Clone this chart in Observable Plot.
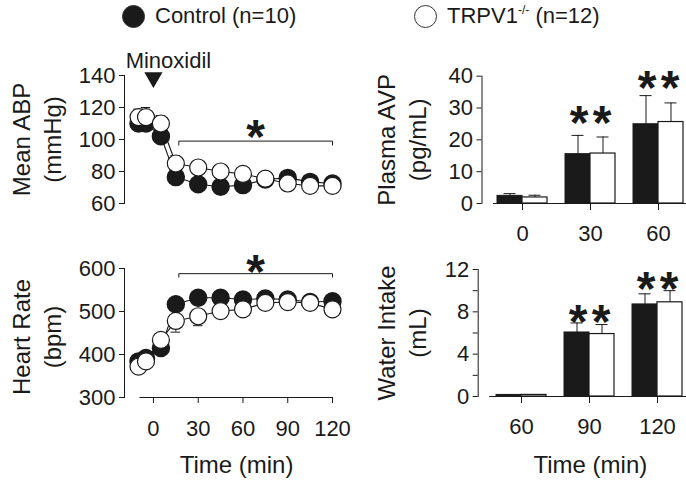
<!DOCTYPE html>
<html><head><meta charset="utf-8">
<script src="https://cdn.jsdelivr.net/npm/d3@7"></script>
<script src="https://cdn.jsdelivr.net/npm/@observablehq/plot@0.6"></script>
<style>
body{margin:0;background:#fff;}
#wrap{position:relative;width:686px;height:484px;overflow:hidden;font-family:"Liberation Sans",Arial,sans-serif;color:#1a1a1a;background:#fff;}
.panel{position:absolute;}
.lg{position:absolute;top:4px;height:24px;display:flex;align-items:center;font-size:22px;white-space:nowrap;}
.dot{display:inline-block;width:23px;height:23px;border-radius:50%;border:1px solid #333;box-sizing:border-box;margin-right:10px;}
.lg sup{font-size:0.55em;vertical-align:0.75em;line-height:0;}
</style></head>
<body>
<div id="wrap">
  <div class="lg" style="left:122px"><span class="dot" style="background:#1a1a1a"></span><span>Control (n=10)</span></div>
  <div class="lg" style="left:414px"><span class="dot" style="background:#fff"></span><span>TRPV1<sup>-/-</sup> (n=12)</span></div>
  <div class="panel" id="p1" style="left:0;top:50px"></div>
  <div class="panel" id="p2" style="left:0;top:240px"></div>
  <div class="panel" id="p3" style="left:350px;top:50px"></div>
  <div class="panel" id="p4" style="left:350px;top:240px"></div>
</div>
<script>
// ---------- data ----------
const times = [-10, -5, 5, 15, 30, 45, 60, 75, 90, 105, 120];
const abpControl    = [110, 110, 102, 76.5, 72, 70.5, 71.5, 75, 76, 73.5, 72.5];
const abpControlSem = [3, 3, 3, 3, 2, 2, 2, 2, 2, 2, 2];
const abpTrpv1      = [114, 114, 110, 85, 82.5, 80, 78.5, 75.5, 72.5, 71, 71];
const abpTrpv1Sem   = [5, 6, 5, 5, 4, 3, 3, 2, 2, 2, 2];
const hrControl     = [384, 392, 415, 517, 532, 532, 528, 530, 528, 522, 524];
const hrControlSem  = [8, 8, 8, 8, 6, 6, 6, 6, 6, 6, 6];
const hrTrpv1       = [372, 384, 434, 478, 489, 501, 505, 520, 522, 520, 505];
const hrTrpv1Sem    = [6, 6, 8, 26, 22, 10, 8, 6, 6, 6, 6];
const timeTicks = [0, 30, 60, 90, 120];
const abpTicks = [60, 80, 100, 120, 140];
const hrTicks = [300, 400, 500, 600];
const sigSpan = [17, 120];         // bracket start / end (min)
const abpSig = {level: 99, drop: 2.5, star: 108};
const hrSig = {level: 588, drop: 8, star: 616};
const drugTime = 0;

const avpCats = ["0", "30", "60"];
const avpControl    = [2.4, 15.5, 24.9];
const avpControlSem = [0.7, 5.9, 9.0];
const avpTrpv1      = [1.9, 15.7, 25.6];
const avpTrpv1Sem   = [0.7, 5.2, 6.0];
const avpTicks = [0, 10, 20, 30, 40];
const avpStars = [{cat: "30", y: 28.7}, {cat: "60", y: 39.7}];

const waterCats = ["60", "90", "120"];
const waterControl    = [0.15, 6.05, 8.7];
const waterControlSem = [0, 0.9, 1.0];
const waterTrpv1      = [0.15, 5.9, 8.9];
const waterTrpv1Sem   = [0, 0.9, 1.1];
const waterTicks = [0, 4, 8, 12];
const waterMinor = [2, 6, 10];
const waterStars = [{cat: "90", y: 8.0}, {cat: "120", y: 11.1}];

// ---------- helpers ----------
const ink = "#1a1a1a";
const FONT = "Liberation Sans, Arial, sans-serif";
const style = {background: "transparent", fontFamily: FONT, fontSize: "22px", color: ink, overflow: "visible"};

function series(vals, sems) { return times.map((t, i) => ({t, v: vals[i], e: sems[i]})); }

function yLabel(label, dx, dy) {
  return Plot.text([label], {frameAnchor: "left", textAnchor: "middle", rotate: -90, dx, dy: dy || 0,
    fontSize: 24, lineHeight: 1.3, lineAnchor: "middle"});
}

function linePanel({ctrl, trp, ctrlDir, trpDir, yDomain, yTicks, label, sig, height, marginTop, marginBottom, xAxis, extra, labelDy}) {
  const cap = 3.2;
  const marks = [
    Plot.frame({anchor: "left", stroke: ink}),
    Plot.axisY({ticks: yTicks, tickSize: 5, tickPadding: 4, label: null, stroke: ink}),
    yLabel(label, -89, labelDy),
    // error bars
    Plot.ruleX(ctrl, {x: "t", y1: "v", y2: d => d.v + ctrlDir * d.e, stroke: ink}),
    Plot.ruleY(ctrl, {y: d => d.v + ctrlDir * d.e, x1: d => d.t - cap, x2: d => d.t + cap, stroke: ink}),
    Plot.ruleX(trp, {x: "t", y1: "v", y2: d => d.v + trpDir * d.e, stroke: ink}),
    Plot.ruleY(trp, {y: d => d.v + trpDir * d.e, x1: d => d.t - cap, x2: d => d.t + cap, stroke: ink}),
    Plot.line(ctrl, {x: "t", y: "v", stroke: ink, strokeWidth: 1.1}),
    Plot.line(trp, {x: "t", y: "v", stroke: ink, strokeWidth: 1.1}),
    Plot.dot(ctrl, {x: "t", y: "v", r: 8.5, fill: ink, stroke: ink}),
    Plot.dot(trp, {x: "t", y: "v", r: 8.5, fill: "white", stroke: ink, strokeWidth: 1.2}),
    // significance bracket
    Plot.line([
      {x: sigSpan[0], y: sig.level - sig.drop}, {x: sigSpan[0], y: sig.level},
      {x: sigSpan[1], y: sig.level}, {x: sigSpan[1], y: sig.level - sig.drop}
    ], {x: "x", y: "y", stroke: ink, strokeWidth: 1}),
    Plot.text(["*"], {x: (sigSpan[0] + sigSpan[1]) / 2, y: sig.star, fontSize: 48, fontWeight: "bold", lineAnchor: "middle", dy: 11})
  ];
  if (xAxis) {
    marks.push(
      Plot.ruleY([yDomain[0]], {x1: -9, x2: 120, stroke: ink}),
      Plot.axisX({ticks: timeTicks, tickSize: 6, tickPadding: 17, label: null, stroke: ink}),
      Plot.text(["Time (min)"], {frameAnchor: "bottom", textAnchor: "middle", dx: 8, dy: 68, fontSize: 24, lineAnchor: "middle"})
    );
  } else {
    marks.push(Plot.axisX({ticks: [], label: null}));
  }
  if (extra) marks.push(...extra);
  return Plot.plot({
    width: 345, height, marginLeft: 124, marginRight: 13, marginTop, marginBottom,
    style,
    x: {domain: [-19.4, 120]},
    y: {domain: yDomain},
    marks
  });
}

const abpPlot = linePanel({
  ctrl: series(abpControl, abpControlSem), trp: series(abpTrpv1, abpTrpv1Sem),
  ctrlDir: -1, trpDir: 1,
  yDomain: [60, 140], yTicks: abpTicks, label: "Mean ABP\n(mmHg)", sig: abpSig,
  height: 160, marginTop: 25, marginBottom: 7, xAxis: false,
  extra: [
    Plot.dot([drugTime], {x: d => d, frameAnchor: "top", dy: 2, symbol: "triangle", rotate: 180, r: 5.8, fill: ink, stroke: ink}),
    Plot.text(["Minoxidil"], {x: () => drugTime, frameAnchor: "top", textAnchor: "middle", dx: 15, dy: -15, fontSize: 22, lineAnchor: "middle"})
  ]
});
document.getElementById("p1").appendChild(abpPlot);

const hrPlot = linePanel({
  ctrl: series(hrControl, hrControlSem), trp: series(hrTrpv1, hrTrpv1Sem),
  ctrlDir: 1, trpDir: -1,
  yDomain: [300, 600], yTicks: hrTicks, label: "Heart Rate\n(bpm)", sig: hrSig,
  height: 244, marginTop: 28, marginBottom: 87, xAxis: true, labelDy: 4
});
document.getElementById("p2").appendChild(hrPlot);

function barPanel({cats, ctrl, ctrlSem, trp, trpSem, yDomain, yTicks, minor, label, stars, height, marginTop, marginBottom, marginLeft, xRange, timeLabel}) {
  const rows = cats.map((c, i) => ({cat: c, c: ctrl[i], ce: ctrlSem[i], o: trp[i], oe: trpSem[i]}));
  const off = 12.5;
  const marks = [
    Plot.frame({anchor: "left", stroke: ink}),
    Plot.axisY({ticks: yTicks, tickSize: 5, tickPadding: 4, label: null, stroke: ink}),
    yLabel(label, -(marginLeft - 50)),
    Plot.ruleY([yDomain[0]], {stroke: ink, insetLeft: 11.5}),
    Plot.axisX({tickSize: 7, tickPadding: 15, label: null, stroke: ink}),
    // error bars (upward)
    Plot.ruleX(rows, {x: "cat", y1: "c", y2: d => d.c + d.ce, dx: -off, stroke: ink}),
    Plot.tickY(rows, {x: "cat", y: d => d.c + d.ce, insetLeft: 15.5, insetRight: 40.5, stroke: ink}),
    Plot.ruleX(rows, {x: "cat", y1: "o", y2: d => d.o + d.oe, dx: off, stroke: ink}),
    Plot.tickY(rows, {x: "cat", y: d => d.o + d.oe, insetLeft: 40.5, insetRight: 15.5, stroke: ink}),
    Plot.barY(rows, {x: "cat", y: "c", fill: ink, stroke: ink, insetLeft: 9, insetRight: 34}),
    Plot.barY(rows, {x: "cat", y: "o", fill: "white", stroke: ink, strokeWidth: 1.2, insetLeft: 34, insetRight: 9}),
    Plot.text(stars, {x: "cat", y: "y", text: () => "*", dx: -11.5, dy: 11, fontSize: 48, fontWeight: "bold", lineAnchor: "middle"}),
    Plot.text(stars, {x: "cat", y: "y", text: () => "*", dx: 11.5, dy: 11, fontSize: 48, fontWeight: "bold", lineAnchor: "middle"})
  ];
  if (minor) marks.push(Plot.axisY({ticks: minor, tickSize: 5, tickFormat: () => "", label: null, stroke: ink}));
  if (timeLabel) marks.push(Plot.text(["Time (min)"], {frameAnchor: "bottom", textAnchor: "middle", dx: 8, dy: 69, fontSize: 24, lineAnchor: "middle"}));
  return Plot.plot({
    width: 336, height, marginLeft, marginRight: 0, marginTop, marginBottom,
    style,
    x: {type: "band", domain: cats, range: xRange, padding: 0},
    y: {domain: yDomain},
    marks
  });
}

document.getElementById("p3").appendChild(barPanel({
  cats: avpCats, ctrl: avpControl, ctrlSem: avpControlSem, trp: avpTrpv1, trpSem: avpTrpv1Sem,
  yDomain: [0, 40], yTicks: avpTicks, label: "Plasma AVP\n(pg/mL)", stars: avpStars,
  height: 200, marginTop: 25.7, marginBottom: 47, marginLeft: 131.5, xRange: [138, 342], timeLabel: false
}));

document.getElementById("p4").appendChild(barPanel({
  cats: waterCats, ctrl: waterControl, ctrlSem: waterControlSem, trp: waterTrpv1, trpSem: waterTrpv1Sem,
  yDomain: [0, 12], yTicks: waterTicks, minor: waterMinor, label: "Water Intake\n(mL)", stars: waterStars,
  height: 244, marginTop: 29, marginBottom: 88, marginLeft: 127.7, xRange: [136.4, 342.4], timeLabel: true
}));
</script>
</body></html>
